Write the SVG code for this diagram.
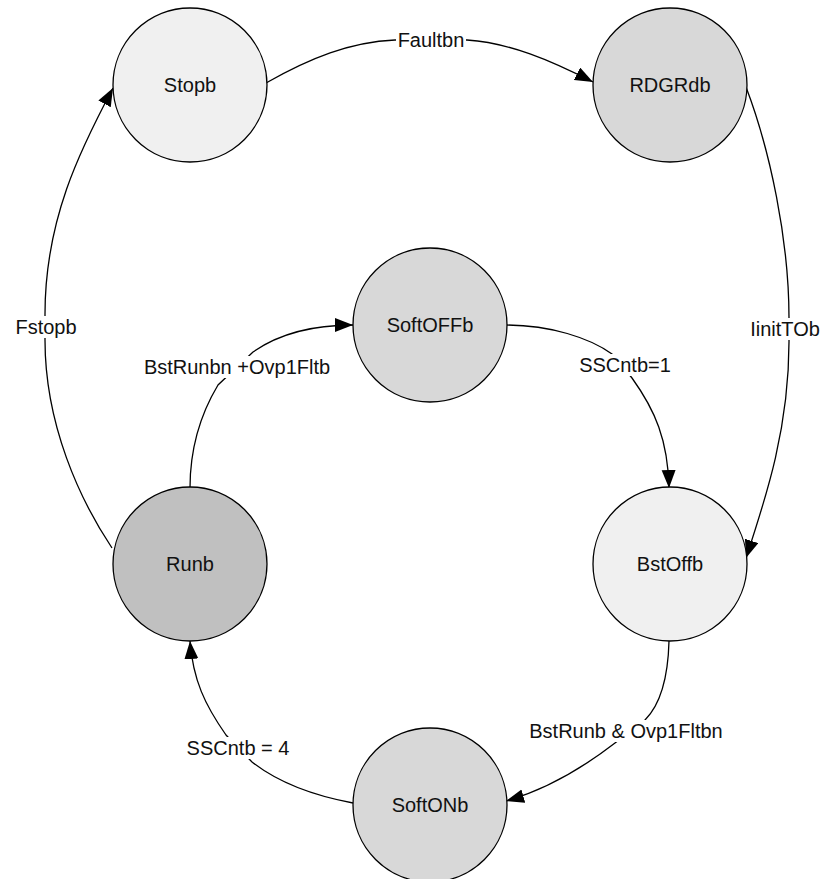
<svg xmlns="http://www.w3.org/2000/svg" width="830" height="879" viewBox="0 0 830 879">
<style>
.node circle{stroke:#000;stroke-width:1.3}
.light{fill:#f0f0f0}
.mid{fill:#d8d8d8}
.dark{fill:#c0c0c0}
text{font-family:"Liberation Sans",Arial,sans-serif;font-size:20px;fill:#111;text-anchor:middle}
.edge{fill:none;stroke:#000;stroke-width:1.3;marker-end:url(#arr)}
.lbg{fill:#fff}
</style>
<defs>
<marker id="arr" markerUnits="userSpaceOnUse" markerWidth="19" markerHeight="15" refX="18" refY="7" orient="auto">
<path d="M0,0 L18,7 L0,14 z" fill="#000"/>
</marker>
</defs>
<rect width="830" height="879" fill="#fff"/>
<g id="connectors">
<path class="edge" d="M266,83 C310,58 350,42 395,40 L467,40 C510,43 550,60 593,82"/>
<path class="edge" d="M746,87 C770,150 789,240 789,318 L789,342 C789,430 765,500 746,558"/>
<path class="edge" d="M506,325 C550,325 590,338 612,354 L632,378 C655,410 668,440 669,488"/>
<path class="edge" d="M669,641 C668,680 660,705 645,720 L615,743 C580,770 545,790 506,801"/>
<path class="edge" d="M353,803 C310,795 275,780 252,762 L226,735 C205,705 193,680 190,641"/>
<path class="edge" d="M190,488 C190,445 203,410 218,385 L253,352 C280,333 315,325 353,325"/>
<path class="edge" d="M112,548 C80,500 45,425 45,340 L45,314 C45,220 80,150 113,88"/>
<g id="labels">
<rect class="lbg" x="396" y="30" width="70" height="20"/>
<text x="431" y="47">Faultbn</text>
<rect class="lbg" x="752" y="318" width="66" height="22"/>
<text x="785" y="336">IinitTOb</text>
<rect class="lbg" x="578" y="354" width="94" height="22"/>
<text x="625" y="372">SSCntb=1</text>
<rect class="lbg" x="528" y="720" width="196" height="22"/>
<text x="626" y="738">BstRunb &amp; Ovp1Fltbn</text>
<rect class="lbg" x="182" y="737" width="112" height="22"/>
<text x="238" y="755">SSCntb = 4</text>
<rect class="lbg" x="136" y="356" width="202" height="22"/>
<text x="237" y="374">BstRunbn +Ovp1Fltb</text>
<rect class="lbg" x="14" y="316" width="64" height="22"/>
<text x="46" y="334">Fstopb</text>
</g>
</g>
<g id="Stopb" class="node"><circle class="light" cx="190" cy="85" r="77"/><text x="190" y="92">Stopb</text></g>
<g id="RDGRdb" class="node"><circle class="mid" cx="670" cy="85" r="77"/><text x="670" y="92">RDGRdb</text></g>
<g id="SoftOFFb" class="node"><circle class="mid" cx="430" cy="325" r="77"/><text x="430" y="332">SoftOFFb</text></g>
<g id="Runb" class="node"><circle class="dark" cx="190" cy="564" r="77"/><text x="190" y="571">Runb</text></g>
<g id="BstOffb" class="node"><circle class="light" cx="670" cy="564" r="77"/><text x="670" y="571">BstOffb</text></g>
<g id="SoftONb" class="node"><circle class="mid" cx="430" cy="805" r="77"/><text x="430" y="812">SoftONb</text></g>
</svg>
